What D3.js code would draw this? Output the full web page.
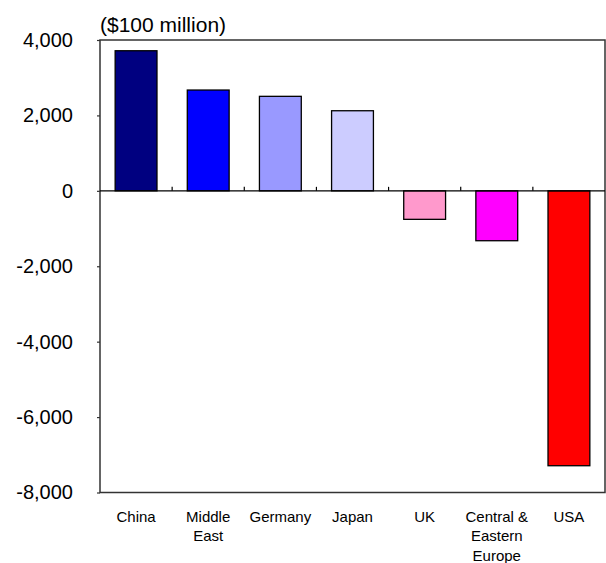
<!DOCTYPE html>
<html>
<head>
<meta charset="utf-8">
<script src="https://cdn.jsdelivr.net/npm/d3@7"></script>
<style>
  html, body { margin: 0; padding: 0; background: #fff; }
  svg { display: block; font-family: Arial, "Liberation Sans", sans-serif; }
</style>
</head>
<body>
<svg id="chart" width="606" height="563"></svg>
<script>
// Current account balance by region ($100 million)
const categories = ["China", "Middle East", "Germany", "Japan", "UK", "Central & Eastern Europe", "USA"];
const labelLines = [["China"], ["Middle", "East"], ["Germany"], ["Japan"], ["UK"], ["Central &", "Eastern", "Europe"], ["USA"]];
const values = [3715, 2673, 2506, 2124, -756, -1323, -7290];
const barColors = ["#000080", "#0000FF", "#9999FF", "#CCCCFF", "#FF99CC", "#FF00FF", "#FF0000"];
const yTicks = [4000, 2000, 0, -2000, -4000, -6000, -8000];
const unitLabel = "($100 million)";

const svg = d3.select("#chart");
const plotLeft = 100, plotRight = 605, plotTop = 40, plotBottom = 492.5;

const x = d3.scaleBand().domain(categories).range([plotLeft, plotRight])
  .paddingInner(0.42).paddingOuter(0.21);
const y = d3.scaleLinear().domain([-8000, 4000]).range([plotBottom, plotTop]);

// plot frame
svg.append("rect")
  .attr("x", plotLeft).attr("y", plotTop)
  .attr("width", plotRight - plotLeft).attr("height", plotBottom - plotTop)
  .attr("fill", "none").attr("stroke", "#333").attr("stroke-width", 1.5);

// y axis
const fmt = d3.format(",");
const yAxis = svg.append("g").attr("transform", `translate(${plotLeft},0)`)
  .call(d3.axisLeft(y).tickValues(yTicks).tickSize(3).tickPadding(24).tickFormat(d => fmt(d).replace("−", "-")));
yAxis.select(".domain").remove();
yAxis.selectAll(".tick line").attr("stroke", "#333").attr("stroke-width", 1.2);
yAxis.selectAll(".tick text")
  .attr("font-family", "Arial, 'Liberation Sans', sans-serif")
  .attr("font-size", 20).attr("fill", "#000");

// bars
svg.append("g").selectAll("rect").data(categories).join("rect")
  .attr("x", d => x(d))
  .attr("width", x.bandwidth())
  .attr("y", (d, i) => y(Math.max(0, values[i])))
  .attr("height", (d, i) => Math.abs(y(values[i]) - y(0)))
  .attr("fill", (d, i) => barColors[i])
  .attr("stroke", "#000").attr("stroke-width", 1.3);

// zero line with category separators
svg.append("line")
  .attr("x1", plotLeft).attr("x2", plotRight).attr("y1", y(0)).attr("y2", y(0))
  .attr("stroke", "#000").attr("stroke-width", 1.3);
const step = x.step();
svg.append("g").selectAll("line").data(categories.slice(1)).join("line")
  .attr("x1", d => x(d) - step * x.paddingOuter())
  .attr("x2", d => x(d) - step * x.paddingOuter())
  .attr("y1", y(0)).attr("y2", y(0) - 4)
  .attr("stroke", "#000").attr("stroke-width", 1.2);

// category labels
const lab = svg.append("g").selectAll("text").data(categories).join("text")
  .attr("text-anchor", "middle")
  .attr("font-size", 15).attr("fill", "#000");
lab.each(function (d, i) {
  const t = d3.select(this);
  labelLines[i].forEach((ln, k) => {
    t.append("tspan")
      .attr("x", x(d) + x.bandwidth() / 2)
      .attr("y", 521.5 + k * 19.5)
      .text(ln);
  });
});

// unit label
svg.append("text")
  .attr("x", plotLeft).attr("y", 32)
  .attr("font-size", 21).attr("fill", "#000")
  .text(unitLabel);
</script>
</body>
</html>
